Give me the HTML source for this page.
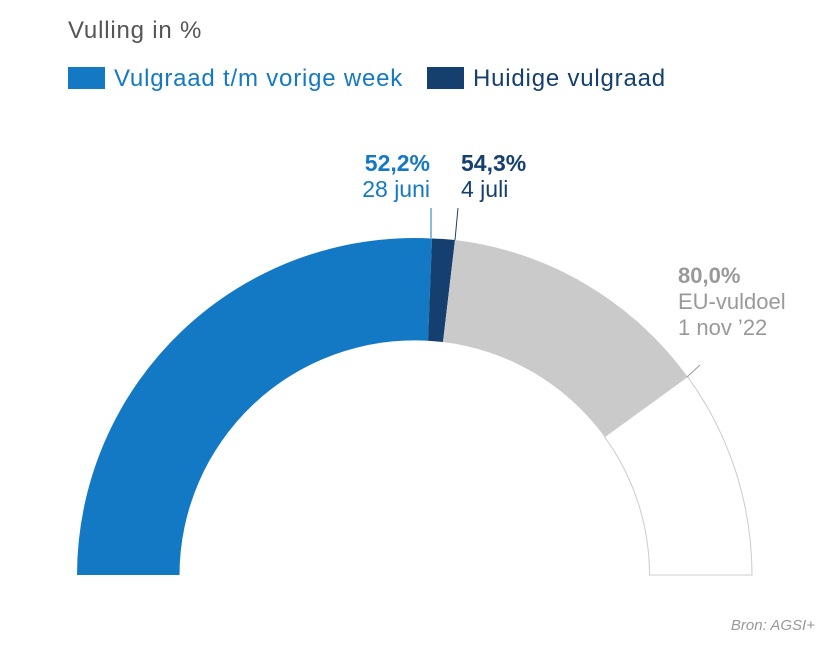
<!DOCTYPE html>
<html><head><meta charset="utf-8"><style>
html,body{margin:0;padding:0;background:#fff;}
svg{display:block;font-family:"Liberation Sans",sans-serif;}
</style></head><body>
<svg width="830" height="648" viewBox="0 0 830 648" xmlns="http://www.w3.org/2000/svg">
<text x="68" y="38" font-size="24" letter-spacing="0.8" fill="#555">Vulling in %</text>
<rect x="68" y="67" width="37" height="22" fill="#1479c4"/>
<text x="114" y="86" font-size="24" letter-spacing="0.8" fill="#1479c4">Vulgraad t/m vorige week</text>
<rect x="427" y="67" width="37" height="22" fill="#143f6e"/>
<text x="473" y="86" font-size="24" letter-spacing="0.8" fill="#143f6e">Huidige vulgraad</text>

<path d="M77,575 A337.5,337.5 0 0 1 432,238.5 L428,340.8 A235,235 0 0 0 179.5,575 Z" fill="#1479c4"/>
<path d="M432,238.5 A337.5,337.5 0 0 1 455,240 L443,342 L428,340.8 Z" fill="#143f6e"/>
<path d="M455,240 A337.5,337.5 0 0 1 687.5,376.6 L604.6,436.9 A235,235 0 0 0 443,342 Z" fill="#cacaca"/>
<path d="M687.5,376.6 A337.5,337.5 0 0 1 752,575 L649.5,575 A235,235 0 0 0 604.6,436.9 Z" fill="#fff" stroke="#ccc" stroke-width="1"/>

<line x1="431" y1="238" x2="431" y2="208" stroke="#1479c4" stroke-width="1"/>
<line x1="455" y1="240" x2="458" y2="208" stroke="#143f6e" stroke-width="1"/>
<line x1="687" y1="377" x2="700" y2="365" stroke="#999" stroke-width="1"/>

<text x="430" y="171" font-size="23" font-weight="bold" fill="#1479c4" text-anchor="end">52,2%</text>
<text x="430" y="197" font-size="23" fill="#1479c4" text-anchor="end">28 juni</text>
<text x="461" y="171" font-size="23" font-weight="bold" fill="#143f6e">54,3%</text>
<text x="461" y="197" font-size="23" fill="#143f6e">4 juli</text>
<text x="678" y="283" font-size="22" font-weight="bold" fill="#999">80,0%</text>
<text x="678" y="309" font-size="22" fill="#999">EU-vuldoel</text>
<text x="678" y="335" font-size="22" fill="#999">1 nov ’22</text>
<text x="815" y="630" font-size="15" font-style="italic" fill="#999" text-anchor="end">Bron: AGSI+</text>
</svg>
</body></html>
